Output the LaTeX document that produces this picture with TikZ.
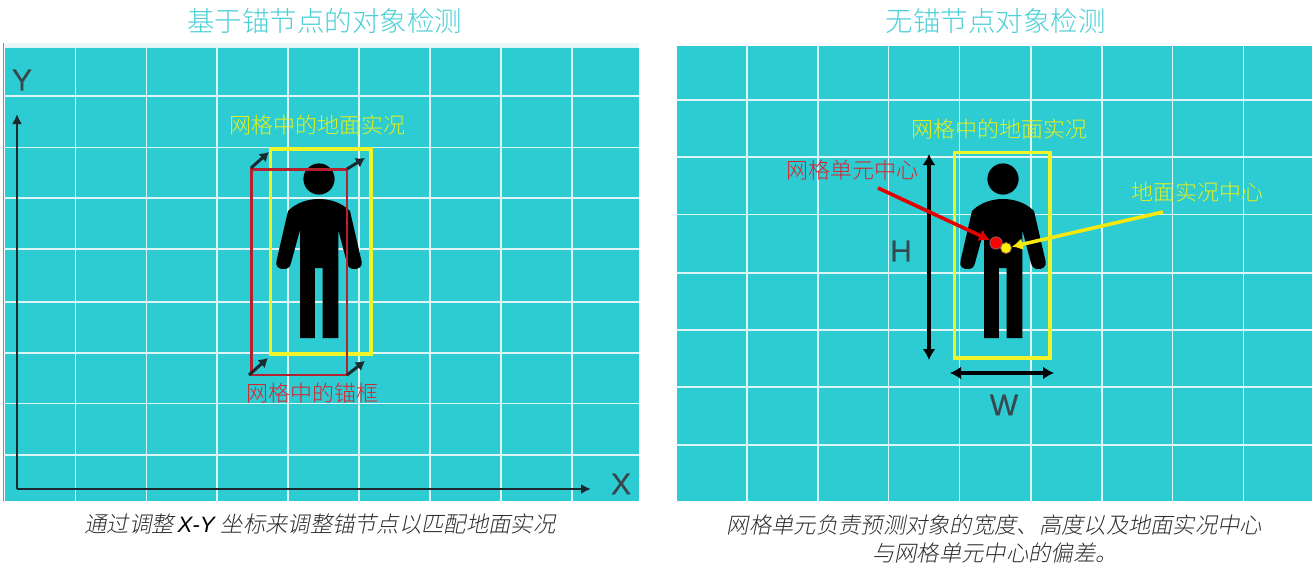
\documentclass[tikz,border=0pt]{standalone}
\usepackage{fontspec}
\usetikzlibrary{arrows.meta}
\setmainfont{Liberation Sans}
\newfontfamily\cjk{Noto Sans CJK SC Light}
\newfontfamily\cjkit[FakeSlant=0.2]{Noto Sans CJK SC Light}
\newfontfamily\latinit{Liberation Sans Italic}
\newfontfamily\letterfont[FakeBold=0.5]{Liberation Sans}
\definecolor{panelteal}{HTML}{2DCBD2}
\definecolor{gridline}{HTML}{DDF5F6}
\definecolor{titleteal}{HTML}{4CD0D7}
\definecolor{boxyellow}{HTML}{F0F52A}
\definecolor{labelyellow}{HTML}{E4F01E}
\definecolor{boxred}{HTML}{B5202E}
\definecolor{labelred}{HTML}{D8232E}
\definecolor{axisdark}{HTML}{1B2A2E}
\definecolor{lettergray}{HTML}{38484C}
\definecolor{captiongray}{HTML}{2E2E2E}
\tikzset{
  x=1pt,y=-1pt,
  gridrule/.style={gridline,line width=1.6pt},
  titletext/.style={inner sep=0,text=titleteal,font=\cjk\fontsize{27.5}{32}\selectfont},
  yellowtext/.style={inner sep=0,text=labelyellow,font=\cjk\fontsize{22}{26}\selectfont},
  redtext/.style={inner sep=0,text=labelred,font=\cjk\fontsize{22}{26}\selectfont},
  captiontext/.style={inner sep=0,text=captiongray,font=\cjkit\fontsize{22.3}{28}\selectfont},
  letter/.style={inner sep=0,text=lettergray,font=\letterfont\fontsize{30}{34}\selectfont},
  yellowbox/.style={draw=boxyellow,line width=3.2pt},
  redbox/.style={draw=boxred,line width=2.6pt},
  axisline/.style={draw=axisdark,line width=2.2pt,-{Latex[length=10pt,width=10pt]}},
  shift arrow/.style={draw=axisdark,line width=3pt,-{Latex[length=9pt,width=11pt]}},
  dim arrow/.style={draw=black,line width=3.2pt,{Latex[length=11pt,width=13pt]}-{Latex[length=11pt,width=13pt]}},
  pointer/.style={line width=3.6pt,-{Latex[length=11pt,width=12pt]}},
  person/.pic={
    \fill[black] (0,0) circle[radius=15.6];
    \fill[black] (-31,32) .. controls (-22,23) and (-10,20) .. (0,20)
      .. controls (10,20) and (22,23) .. (31,32) -- (42.5,82)
      .. controls (44,88) and (39,90.5) .. (35,90)
      .. controls (31,90) and (29,88) .. (28,84) -- (19.3,51) -- (19.3,159)
      -- (3.5,159) -- (3.5,89) -- (-4.2,89) -- (-4.2,159) -- (-19,159) -- (-19,51)
      -- (-28,84) .. controls (-29,88) and (-31,90) .. (-35,90)
      .. controls (-39,90.5) and (-44,88) .. (-42.5,82) -- cycle;
  }
}
\begin{document}
\begin{tikzpicture}
\useasboundingbox (0,0) rectangle (1312,565);
\fill[white] (0,0) rectangle (1312,565);
% left panel
\fill[gridline!70!white] (5,43) rectangle (639,48);
\fill[panelteal] (5,48) rectangle (639,501);
\fill[gray!60!panelteal] (2.5,43) rectangle (4,501);
\foreach \gx in {75.5,146.5,217,288,359,430,501,572}
  \draw[gridrule] (\gx,47) -- (\gx,501);
\foreach \gy in {47.5,96,147.5,198,249,302,353,403.5,455}
  \draw[gridrule] (5,\gy) -- (639,\gy);
% right panel
\fill[panelteal] (677,46) rectangle (1312,501);
\foreach \gx in {747,818,888.5,959.5,1031,1102,1172.5,1243.5}
  \draw[gridrule] (\gx,46) -- (\gx,501);
\foreach \gy in {100,157,214.5,273,330,387,445}
  \draw[gridrule] (677,\gy) -- (1312,\gy);
% titles
\node[titletext] (titleL) at (324.5,20.5) {基于锚节点的对象检测};
\node[titletext] (titleR) at (995.5,20.5) {无锚节点对象检测};
% left axes
\coordinate (origin) at (17,489);
\coordinate (ytip) at (17,114);
\coordinate (xtip) at (591,489);
\draw[axisline] (origin) -- (ytip);
\draw[axisline] (origin) -- (xtip);
\node[letter] (ylabel) at (22,80) {Y};
\node[letter] (xlabel) at (621,484) {X};
% left person and boxes
\pic at (319,179) {person};
\draw[yellowbox] (270.5,149) rectangle (371,354);
\draw[redbox] (251.5,169.5) rectangle (347,375);
\coordinate (a1) at (251,168); \coordinate (b1) at (269,152);
\coordinate (a2) at (347,169); \coordinate (b2) at (365,158);
\coordinate (a3) at (249,375); \coordinate (b3) at (268,358);
\coordinate (a4) at (347,375); \coordinate (b4) at (365,361);
\draw[shift arrow] (a1) -- (b1);
\draw[shift arrow] (a2) -- (b2);
\draw[shift arrow] (a3) -- (b3);
\draw[shift arrow] (a4) -- (b4);
\node[yellowtext] (gtL) at (317,125) {网格中的地面实况};
\node[redtext] (anchorL) at (312,393) {网格中的锚框};
% right person and boxes
\pic at (1003,179) {person};
\draw[yellowbox] (954.5,152.5) rectangle (1050,358);
\coordinate (hTop) at (929,154); \coordinate (hBot) at (929,360);
\coordinate (wLeft) at (950,373); \coordinate (wRight) at (1054,373);
\draw[dim arrow] (hTop) -- (hBot);
\draw[dim arrow] (wLeft) -- (wRight);
\node[letter] (hlabel) at (901,251) {H};
\node[letter] (wlabel) at (1004,405) {W};
\node[yellowtext] (gtR) at (999.5,129) {网格中的地面实况};
\node[redtext] (cellC) at (852.5,170) {网格单元中心};
\node[yellowtext] (gtC) at (1197.5,192) {地面实况中心};
\node[circle,fill=red,draw=boxred!60!gray,line width=1.2pt,minimum size=12pt,inner sep=0] (reddot) at (996,243) {};
\node[circle,fill=yellow,draw=boxred!40!gray,line width=.8pt,minimum size=11pt,inner sep=0] (yellowdot) at (1006,248) {};
\coordinate (redStart) at (878,188);
\coordinate (yellowStart) at (1163,212);
\draw[pointer,draw=red!90!black] (redStart) -- (reddot);
\draw[pointer,draw=yellow!95!black] (yellowStart) -- (yellowdot);
% captions
\node[captiontext] (capL) at (320,524.5) {通过调整{\latinit\color{black}\,X-Y }坐标来调整锚节点以匹配地面实况};
\node[captiontext] (capR1) at (994.5,525) {网格单元负责预测对象的宽度、高度以及地面实况中心};
\node[captiontext] (capR2) at (995,553) {与网格单元中心的偏差。};
\end{tikzpicture}
\end{document}
